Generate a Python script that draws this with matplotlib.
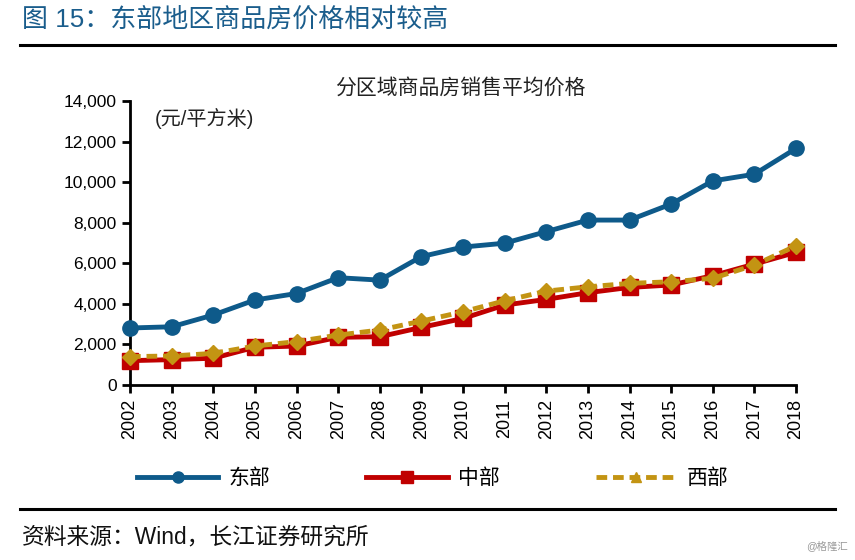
import matplotlib
matplotlib.use("Agg")
import matplotlib.pyplot as plt
from matplotlib.lines import Line2D
from matplotlib.ticker import FuncFormatter

plt.rcParams['font.family'] = ['Liberation Sans', 'Noto Sans CJK SC', 'DejaVu Sans']

# data (元/平方米)
years = list(range(2002, 2019))
east = [2810, 2870, 3450, 4190, 4510, 5290, 5170, 6330, 6800, 6990, 7560,
        8130, 8130, 8920, 10060, 10390, 11660]
central = [1200, 1250, 1320, 1860, 1920, 2350, 2380, 2840, 3280, 3940, 4220,
           4550, 4810, 4930, 5390, 5960, 6540]
west = [1400, 1430, 1560, 1920, 2140, 2460, 2710, 3150, 3610, 4150, 4630,
        4840, 5010, 5090, 5260, 5910, 6860]
series_names = ['东部', '中部', '西部']

blue = '#0e5a8a'
red = '#c00000'
gold = '#c39413'

fig = plt.figure(figsize=(8.55, 5.6), dpi=100)
ax = fig.add_axes([130 / 855, 1 - 385 / 560, (796 - 130) / 855, (385 - 101) / 560])

ax.plot(years, east, color=blue, lw=3.5, marker='o', ms=11, clip_on=False, zorder=3)
ax.plot(years, central, color=red, lw=3.5, marker='s', ms=11, clip_on=False, zorder=3)
ax.plot(years, west, color=gold, lw=3.5, ls=(0, (2.2, 1.2)), marker='D', ms=8,
        clip_on=False, zorder=4)

ax.set_xlim(2002, 2018)
ax.set_ylim(0, 14000)
ax.set_yticks(range(0, 14001, 2000))
ax.yaxis.set_major_formatter(FuncFormatter(lambda v, p: f'{int(v):,}'))
ax.set_xticks(years)
ax.set_xticklabels([str(y) for y in years], rotation=90)
ax.tick_params(axis='both', labelsize=12.5, direction='out', length=6, width=2,
               colors='black')
ax.tick_params(axis='x', labelsize=13, pad=4)
for s in ['top', 'right']:
    ax.spines[s].set_visible(False)
for s in ['left', 'bottom']:
    ax.spines[s].set_linewidth(2)

# titles and notes
fig.text(22 / 855, 1 - 20 / 560, '图 15：东部地区商品房价格相对较高', fontsize=18.7,
         color='#1a5d8c', va='center', ha='left')
fig.add_artist(Line2D([20 / 855, 835 / 855], [1 - 45 / 560] * 2, color='black', lw=2.2))
fig.text(460 / 855, 1 - 88 / 560, '分区域商品房销售平均价格', fontsize=15,
         color='#222222', ha='center', va='center')
fig.text(155 / 855, 1 - 118 / 560, '(元/平方米)', fontsize=14.5, color='#222222',
         ha='left', va='center')

handles = [
    Line2D([], [], color=blue, lw=3.5, marker='o', ms=8),
    Line2D([], [], color=red, lw=3.5, marker='s', ms=9),
    Line2D([], [], color=gold, lw=3.5, ls=(0, (2.2, 1.2)), marker='^', ms=7),
]
fig.legend(handles, series_names, loc='center', ncol=3,
           bbox_to_anchor=(433 / 855, 1 - 478 / 560), frameon=False,
           fontsize=15, handlelength=3.9, handletextpad=0.5, columnspacing=4.6)

fig.add_artist(Line2D([20 / 855, 835 / 855], [1 - 509 / 560] * 2, color='black', lw=2.2))
fig.text(22 / 855, 1 - 537 / 560, '资料来源：Wind，长江证券研究所', fontsize=16.4,
         color='#111111', ha='left', va='center')
fig.text(848 / 855, 1 - 546 / 560, '@格隆汇', fontsize=7.5, color='#999999',
         ha='right', va='center')

fig.savefig('out.png', dpi=100)
